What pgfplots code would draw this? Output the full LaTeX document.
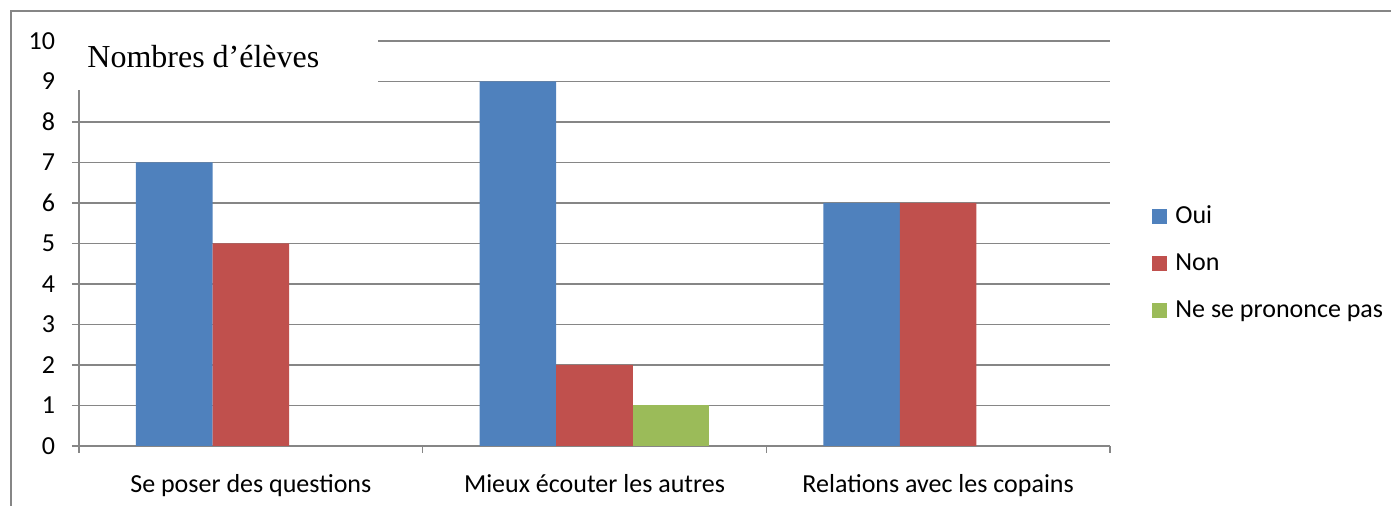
\documentclass[border=0pt]{standalone}
\usepackage{pgfplots}
\pgfplotsset{compat=1.18}
\usepackage{fontspec}
\setmainfont{Carlito}
\newfontfamily\timesfont{Liberation Serif}
\definecolor{cOui}{HTML}{4F81BD}
\definecolor{cNon}{HTML}{C0504D}
\definecolor{cNSP}{HTML}{9BBB59}
\definecolor{gridgray}{HTML}{868686}
\begin{document}
\begin{tikzpicture}
\useasboundingbox (0,0) rectangle (695.5pt,-253pt);
\draw[gridgray, line width=0.75pt] (5.5pt,-260pt) -- (5.5pt,-5.5pt) -- (700pt,-5.5pt);
\begin{axis}[
  at={(39.5pt,-223pt)}, anchor=south west,
  scale only axis, width=515.5pt, height=202.5pt,
  xmin=-0.5, xmax=2.5, ymin=0, ymax=10,
  ybar=0pt, bar width=38.3pt,
  axis x line=bottom, axis y line=left,
  axis line style={-, draw=gridgray, line width=0.75pt},
  ytick={0,...,10}, ymajorgrids,
  grid style={gridgray, line width=0.75pt},
  tick align=outside, major tick length=3.5pt,
  tick style={gridgray, line width=0.75pt},
  xtick={-0.5,0.5,1.5,2.5}, xticklabels={},
  extra x ticks={0,1,2},
  extra x tick labels={Se poser des questions, Mieux écouter les autres, Relations avec les copains},
  extra x tick style={major tick length=0pt, xticklabel style={yshift=-10.5pt}},
  ticklabel style={font=\fontsize{13}{15}\selectfont},
  yticklabel style={xshift=-5pt},
  /pgf/number format/assume math mode=true,
  legend style={at={(1.0349,0.452)}, anchor=west, draw=none, fill=none,
    font=\fontsize{13}{15}\selectfont, row sep=9.5pt},
  legend cell align=left,
  legend image code/.code={\fill[#1] (0pt,-3.75pt) rectangle (7.5pt,3.75pt);},
  legend style={nodes={inner xsep=4pt}},
]
\addplot[fill=cOui, draw=none] coordinates {(0,7) (1,9) (2,6)};
\addplot[fill=cNon, draw=none] coordinates {(0,5) (1,2) (2,6)};
\addplot[fill=cNSP, draw=none] coordinates {(1,1)};
\legend{Oui, Non, Ne se prononce pas}
\end{axis}
\fill[white] (35pt,-13pt) rectangle (189pt,-45pt);
\node[anchor=base west, inner sep=0pt, font=\timesfont\fontsize{16}{19}\selectfont] at (43.5pt,-34pt) {Nombres d’élèves};
\end{tikzpicture}
\end{document}
